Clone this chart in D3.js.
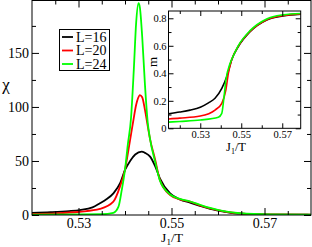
<!DOCTYPE html>
<html><head><meta charset="utf-8">
<script src="https://cdn.jsdelivr.net/npm/d3@7"></script>
<style>
body{margin:0;background:#fff}
svg{display:block}
svg text{font-family:"Liberation Serif","DejaVu Serif",serif !important;fill:#000}
</style>
</head><body>
<svg id="c" width="312" height="247" font-family="Liberation Serif"></svg>
<script>
// ---- data ----
const seriesNames = ["L=16", "L=20", "L=24"];
const seriesColors = ["#000000", "#ff0000", "#00ff00"];

// main panel: susceptibility chi vs J1/T
const chiX16 = [0.520,0.524,0.528,0.5303,0.533,0.5346,0.536,0.5375,0.539,0.540,0.5411,0.5422,0.5436,0.5443,0.5454,0.5465,0.5475,0.5497,0.5518,0.554,0.5561,0.5583,0.5615,0.5647,0.5712,0.580];
const chi16  = [2.0,2.6,3.6,4.6,7.0,10.8,14.5,20,30,41.7,50,56,58.7,57.5,54,45,34,20,14.5,11.4,8.5,5.6,3.0,1.2,0.4,0.2];
const chiX20 = [0.520,0.525,0.5303,0.5346,0.5375,0.5389,0.540,0.5411,0.5417,0.5424,0.5428,0.5432,0.5437,0.5443,0.5449,0.5454,0.5465,0.5475,0.5497,0.5518,0.554,0.5561,0.5583,0.5615,0.5647,0.5712,0.580];
const chi20  = [1.0,1.5,3.0,5.6,12.3,26,42,69.6,85,102,108,111,109,97,82,70,51,32.5,18.5,14.5,12.3,9.0,6.2,3.2,1.5,0.5,0.3];
const chiX24 = [0.520,0.530,0.535,0.5375,0.5386,0.5393,0.540,0.5406,0.5413,0.5419,0.5424,0.5429,0.5432,0.5437,0.5443,0.5449,0.5454,0.5465,0.5475,0.5497,0.5518,0.554,0.5561,0.5583,0.5615,0.5647,0.5712,0.580];
const chi24  = [0.4,0.5,0.7,2.0,7.7,23,42,65,90,135,178,196,192,165,120,85,70,49,32,19,15,12.5,9.5,6.5,3.3,1.6,0.5,0.3];

// inset: order parameter m vs J1/T
const mX16 = [0.5145,0.520,0.525,0.530,0.534,0.5372,0.5405,0.5429,0.5453,0.5485,0.5543,0.5624,0.5704,0.579];
const m16  = [0.105,0.118,0.132,0.153,0.185,0.218,0.29,0.375,0.497,0.593,0.703,0.788,0.817,0.83];
const mX20 = [0.5145,0.520,0.530,0.5372,0.5405,0.5425,0.5437,0.5453,0.5485,0.5543,0.5624,0.5704,0.579];
const m20  = [0.068,0.074,0.089,0.133,0.182,0.279,0.40,0.497,0.595,0.705,0.79,0.82,0.832];
const mX24 = [0.5145,0.520,0.530,0.5388,0.5405,0.5416,0.5425,0.5445,0.5453,0.5485,0.5543,0.5624,0.5704,0.579];
const m24  = [0.045,0.05,0.06,0.08,0.109,0.23,0.35,0.47,0.5,0.6,0.71,0.795,0.825,0.835];

// ticks
const mainXMajor = [0.53, 0.55, 0.57];
const mainXMinor = [0.525,0.535,0.54,0.545,0.555,0.56,0.565,0.575];
const mainYMajor = [0, 50, 100, 150];
const mainYMinor = [25, 75, 125, 175];
const insXMajor = [0.53, 0.55, 0.57];
const insXMinor = [0.52, 0.54, 0.56];
const insYMajor = [0, 0.2, 0.4, 0.6, 0.8];
const insYMinor = [0.1, 0.3, 0.5, 0.7];

// ---- drawing ----
const FONT = "Liberation Serif";
const svg = d3.select("#c");
svg.append("rect").attr("width",312).attr("height",247).attr("fill","#fff");

function panel(opts){
  const g = svg.append("g");
  const x = d3.scaleLinear().domain(opts.xd).range([opts.l, opts.r]);
  const y = d3.scaleLinear().domain(opts.yd).range([opts.b, opts.t]);
  g.append("rect").attr("x",opts.l).attr("y",opts.t).attr("width",opts.r-opts.l).attr("height",opts.b-opts.t).attr("fill","#fff");
  const cid = "clip"+opts.id;
  g.append("clipPath").attr("id",cid).append("rect").attr("x",opts.l).attr("y",opts.t).attr("width",opts.r-opts.l).attr("height",opts.b-opts.t);
  const line = d3.line().x(d=>x(d[0])).y(d=>y(d[1])).curve(d3.curveMonotoneX);
  opts.series.forEach((s,i)=>{
    g.append("path").attr("clip-path",`url(#${cid})`)
      .datum(s[0].map((v,k)=>[v,s[1][k]]))
      .attr("d",line).attr("fill","none").attr("stroke",seriesColors[i]).attr("stroke-width",opts.lw);
  });
  function ax(gen, scale, vals, size, labels, tx, ty, fmt){
    const a = gen(scale).tickValues(vals).tickSizeInner(-size).tickSizeOuter(0).tickPadding(opts.pad);
    a.tickFormat(labels ? fmt : ()=>"");
    const ag = g.append("g").attr("transform",`translate(${tx},${ty})`).call(a);
    ag.attr("font-family",FONT);
    ag.select(".domain").remove();
    ag.selectAll("line").attr("stroke","#000");
    ag.selectAll("text").attr("font-size",opts.fs).attr("font-family",FONT).attr("fill","#000");
    return ag;
  }
  ax(d3.axisBottom, x, opts.xMaj, opts.maj, true, 0, opts.b, opts.fmtX);
  ax(d3.axisBottom, x, opts.xMin, opts.min, false, 0, opts.b, opts.fmtX);
  ax(d3.axisTop, x, opts.xMaj, opts.maj, false, 0, opts.t, opts.fmtX);
  ax(d3.axisTop, x, opts.xMin, opts.min, false, 0, opts.t, opts.fmtX);
  ax(d3.axisLeft, y, opts.yMaj, opts.maj, true, opts.l, 0, opts.fmtY);
  ax(d3.axisLeft, y, opts.yMin, opts.min, false, opts.l, 0, opts.fmtY);
  ax(d3.axisRight, y, opts.yMaj, opts.maj, false, opts.r, 0, opts.fmtY);
  ax(d3.axisRight, y, opts.yMin, opts.min, false, opts.r, 0, opts.fmtY);
  g.append("rect").attr("x",opts.l).attr("y",opts.t).attr("width",opts.r-opts.l).attr("height",opts.b-opts.t)
    .attr("fill","none").attr("stroke","#000").attr("stroke-width",1);
  return {g,x,y};
}

panel({id:"m", xd:[0.52,0.58], yd:[0,198.5], l:32, r:311, t:0.5, b:215,
  series:[[chiX16,chi16],[chiX20,chi20],[chiX24,chi24]], lw:1.8,
  xMaj:mainXMajor, xMin:mainXMinor, yMaj:mainYMajor, yMin:mainYMinor, maj:7, min:4, pad:3, fs:14,
  fmtX:d3.format(".2f"), fmtY:d3.format("d")});

// axis titles main
svg.append("text").attr("x",6).attr("y",90).attr("text-anchor","middle").attr("font-size",17).attr("font-family",FONT).text("χ");
const xt = svg.append("text").attr("x",172).attr("y",242).attr("text-anchor","middle").attr("font-size",13.5).attr("font-family",FONT);
xt.append("tspan").text("J");
xt.append("tspan").attr("font-size",9).attr("dy",3).text("1");
xt.append("tspan").attr("dy",-3).text("/T");

// legend
const lg = svg.append("g");
lg.append("rect").attr("x",59.5).attr("y",29.5).attr("width",50).attr("height",41).attr("fill","#fff").attr("stroke","#000").attr("stroke-width",1);
seriesNames.forEach((n,i)=>{
  const yy = 37 + i*13.5;
  lg.append("line").attr("x1",62).attr("x2",73).attr("y1",yy).attr("y2",yy).attr("stroke",seriesColors[i]).attr("stroke-width",1.8);
  lg.append("text").attr("x",76).attr("y",yy).attr("dy","0.35em").attr("font-size",14).attr("font-family",FONT).text(n);
});

// inset
panel({id:"i", xd:[0.5145,0.579], yd:[0,0.853], l:168.5, r:300.7, t:11, b:128.3,
  series:[[mX16,m16],[mX20,m20],[mX24,m24]], lw:1.6,
  xMaj:insXMajor, xMin:insXMinor, yMaj:insYMajor, yMin:insYMinor, maj:5, min:3, pad:2, fs:10.5,
  fmtX:d3.format(".2f"), fmtY:d=>d===0?"0":d3.format(".1f")(d)});
svg.append("text").attr("transform","translate(157,62) rotate(-90)").attr("text-anchor","middle").attr("font-size",13).attr("font-family",FONT).text("m");
const it = svg.append("text").attr("x",236).attr("y",151).attr("text-anchor","middle").attr("font-size",12.5).attr("font-family",FONT);
it.append("tspan").text("J");
it.append("tspan").attr("font-size",8).attr("dy",3).text("1");
it.append("tspan").attr("dy",-3).text("/T");
</script>
</body></html>
